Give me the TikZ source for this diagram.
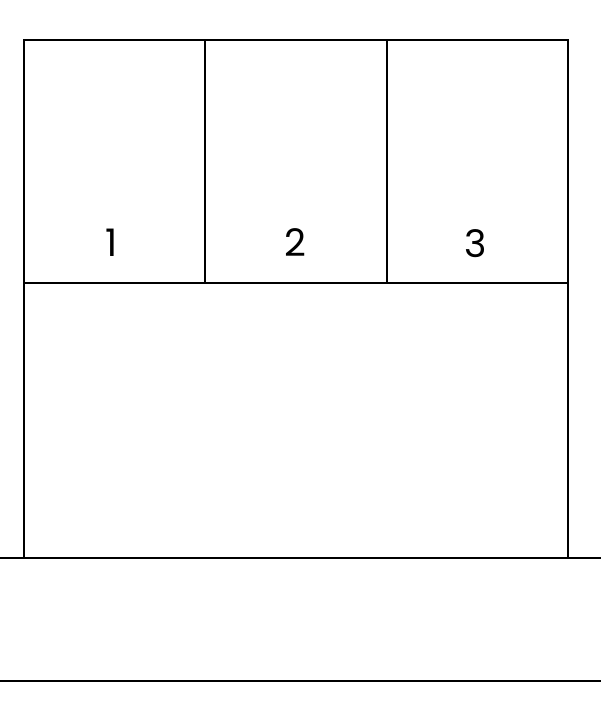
\documentclass[tikz,border=0pt]{standalone}
\usepackage{fontspec}
\setmainfont{Poppins}
\begin{document}
\begin{tikzpicture}[x=0.025cm,y=-0.025cm,line width=0.05cm]
      \useasboundingbox (0,0) rectangle (601,703);
      \draw (24,558)--(24,40)--(568,40)--(568,558);
      \draw (24,283)--(568,283);
      \draw (205,40)--(205,283);
      \draw (387,40)--(387,283);
      \draw (0,558)--(601,558);
      \draw (0,681)--(601,681);
      \node (n1) at (112,243){\fontsize{27}{30}\selectfont 1};
      \node (n2) at (295,243){\fontsize{27}{30}\selectfont 2};
      \node (n3) at (476,244){\fontsize{27}{30}\selectfont 3};
    \end{tikzpicture}
\end{document}
